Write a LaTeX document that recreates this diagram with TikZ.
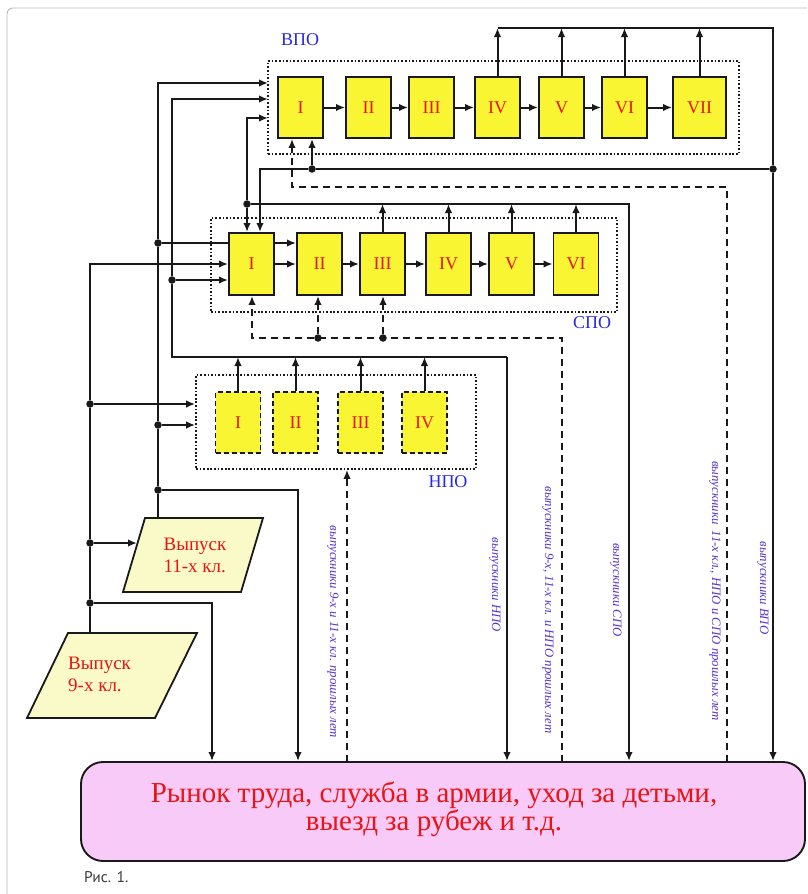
\documentclass[tikz,border=0pt]{standalone}
\usepackage{fontspec}
\setmainfont{Liberation Serif}
\newfontfamily\capfont{PT Sans}
\usetikzlibrary{arrows.meta,calc}
\definecolor{byel}{RGB}{250,245,50}
\definecolor{rtxt}{RGB}{235,20,20}
\definecolor{btxt}{RGB}{40,40,230}
\definecolor{vtxt}{RGB}{85,50,215}
\definecolor{pinkf}{RGB}{248,202,248}
\definecolor{pyel}{RGB}{250,250,200}
\definecolor{ink}{RGB}{25,25,25}
\begin{document}
\begin{tikzpicture}[x=1pt,y=-1pt,
  ybox/.style={draw=ink, fill=byel, line width=1.9pt, minimum width=45pt, minimum height=61pt, inner sep=0pt, text=rtxt, font=\fontsize{18}{18}\selectfont},
  nbox/.style={ybox, dash pattern=on 5pt off 3pt},
  grp/.style={draw=ink, line width=1.7pt, dash pattern=on 1.7pt off 1.9pt, inner sep=0pt},
  conn/.style={line width=2pt, draw=ink},
  arr/.style={conn, -{Latex[length=9pt,width=7.5pt]}},
  dconn/.style={conn, dash pattern=on 7pt off 5pt},
  darr/.style={dconn, -{Latex[length=9pt,width=7.5pt]}},
  jdot/.style={circle, fill=ink, inner sep=0pt, minimum size=7.5pt},
  vlab/.style={rotate=-90, text=vtxt, font=\itshape\fontsize{12.8}{12.8}\selectfont, inner sep=0pt},
  glab/.style={text=btxt, font=\fontsize{18}{18}\selectfont, inner sep=0pt},
  pshape/.style={draw=ink, fill=pyel, line width=1.8pt},
  ptext/.style={text=rtxt, font=\fontsize{19}{22}\selectfont, align=left, inner sep=0pt}
]
\fill[white] (0,0) rectangle (807,894);
\useasboundingbox (0,0) rectangle (807,894);
\draw[gray!55, line width=0.9pt, rounded corners=6pt] (7,894) -- (7,8) -- (807,8);

% groups
\node[grp, minimum width=471pt, minimum height=93pt] (vg) at (503.5,107.5) {};
\node[grp, minimum width=406pt, minimum height=94pt] (sg) at (414,265) {};
\node[grp, minimum width=280pt, minimum height=94pt] (ng) at (336,422) {};
\node[glab] (vgl) at (300,40) {ВПО};
\node[glab] (sgl) at (592,323) {СПО};
\node[glab] (ngl) at (448,482) {НПО};

% ВПО boxes
\node[ybox] (v1) at (300.5,107.5) {I};
\node[ybox] (v2) at (368.5,107.5) {II};
\node[ybox] (v3) at (431.5,107.5) {III};
\node[ybox] (v4) at (497.5,107.5) {IV};
\node[ybox] (v5) at (561.5,107.5) {V};
\node[ybox] (v6) at (624.5,107.5) {VI};
\node[ybox, minimum width=53pt] (v7) at (699.5,107.5) {VII};
% СПО boxes
\node[ybox, minimum height=62pt] (s1) at (251.5,264) {I};
\node[ybox, minimum height=62pt] (s2) at (319.5,264) {II};
\node[ybox, minimum height=62pt] (s3) at (382.5,264) {III};
\node[ybox, minimum height=62pt] (s4) at (448.5,264) {IV};
\node[ybox, minimum height=62pt] (s5) at (511.5,264) {V};
\node[ybox, minimum height=62pt] (s6) at (576,264) {VI};
% НПО boxes
\node[nbox] (n1) at (238,422.5) {I};
\node[nbox] (n2) at (295.5,422.5) {II};
\node[nbox] (n3) at (360.5,422.5) {III};
\node[nbox] (n4) at (424.5,422.5) {IV};

% market
\node[draw=ink, fill=pinkf, line width=1.9pt, rounded corners=22pt, minimum width=724pt, minimum height=99pt] (market) at (443,811.5) {};
\node[text=rtxt, font=\fontsize{29}{28}\selectfont, align=center] (mtext) at (434,809) {Рынок труда, служба в армии, уход за детьми,\\выезд за рубеж и т.д.};
\node[anchor=west, text=ink!85, font=\capfont\fontsize{15.5}{15.5}\selectfont, inner sep=0pt] (cap) at (84,877) {Рис. 1.};

% parallelograms
\draw[pshape] (145,518) coordinate (p11a) -- (263,518) -- (241,592) -- (123,592) -- cycle;
\node[ptext] (t11) at (195,555) {Выпуск\\11-х кл.};
\draw[pshape] (68,633) coordinate (p9a) -- (197,633) -- (155,718) -- (27,718) -- cycle;
\node[ptext, anchor=north west] (t9) at (68,657) {Выпуск\\9-х кл.};

% coordinates
\coordinate (vin1) at (268,83);
\coordinate (vin2) at (268,99);
\coordinate (vin3) at (268,118);
\coordinate (cA) at (158,83);
\coordinate (cB) at (172,99);
\coordinate (cC) at (247,118);
\coordinate (p11t) at (158,518);
\coordinate (p9t) at (90,633);
\coordinate (p11l) at (137,543);
\coordinate (cA4) at (298,490);
\coordinate (cB2) at (172,357);
\coordinate (cB3) at (507,357);
\coordinate (cC2) at (629,204);
\coordinate (cD0) at (773,28);
\coordinate (cD3) at (260,169);
\coordinate (cE0) at (90,264);
\coordinate (cE4) at (212,603);
\coordinate (xN) at (347,762);
\coordinate (xS) at (562,762);
\coordinate (cS1) at (562,338);
\coordinate (cS2) at (252,338);
\coordinate (xV) at (727,762);
\coordinate (cV1) at (727,187);
\coordinate (cV2) at (292,187);

% box chains
\foreach \a/\b in {v1/v2,v2/v3,v3/v4,v4/v5,v5/v6,v6/v7,s1/s2,s2/s3,s3/s4,s4/s5,s5/s6}
  \draw[arr] (\a) -- (\b);

% Line A: 11th grade (x=158)
\node[jdot] (jA1) at (158,243) {};
\node[jdot] (jA2) at (158,425) {};
\node[jdot] (jA3) at (158,490) {};
\draw[arr] (p11t) -- (jA3) -- (jA2) -- (jA1) -- (cA) -- (vin1);
\draw[conn] (jA1) -- (jA1 -| s1.west);
\draw[arr] (jA1 -| s1.east) -- (jA1 -| s2.west);
\draw[arr] (jA2) -- (jA2 -| ng.west);
\draw[arr] (jA3) -- (cA4) -- (cA4 |- market.north);

% Line B: НПО graduates
\foreach \n in {n1,n2,n3,n4} \draw[arr] (\n.north) -- (\n.north |- cB2);
\node[jdot] (jB1) at (172,280) {};
\draw[arr] (cB3) -- (cB2) -- (jB1) -- (cB) -- (vin2);
\draw[arr] (cB3) -- (cB3 |- market.north);
\draw[arr] (jB1) -- (jB1 -| s1.west);

% Line C: СПО graduates
\foreach \n in {s3,s4,s5,s6} \draw[arr] (\n.north) -- (\n.north |- cC2);
\node[jdot] (jC) at (247,204) {};
\draw[arr] (jC) -- (cC2) -- (cC2 |- market.north);
\draw[arr] (jC) -- (cC) -- (vin3);
\draw[arr] (jC) -- (jC |- s1.north);

% Line D: ВПО graduates
\foreach \n in {v4,v5,v6,v7} \draw[arr] (\n.north) -- (\n.north |- cD0);
\node[jdot] (jD1) at (773,169) {};
\node[jdot] (jD2) at (312,169) {};
\draw[arr] (v4.north |- cD0) -- (cD0) -- (jD1) -- (jD1 |- market.north);
\draw[arr] (jD1) -- (jD2) -- (cD3) -- (cD3 |- s1.north);
\draw[arr] (jD2) -- (jD2 |- v1.south);

% Line E: 9th grade (x=90)
\node[jdot] (jE1) at (90,404) {};
\node[jdot] (jE2) at (90,543) {};
\node[jdot] (jE3) at (90,603) {};
\draw[arr] (p9t) -- (jE3) -- (jE2) -- (jE1) -- (cE0) -- (cE0 -| s1.west);
\draw[arr] (jE1) -- (jE1 -| ng.west);
\draw[arr] (jE2) -- (p11l);
\draw[arr] (jE3) -- (cE4) -- (cE4 |- market.north);

% dashed returns
\draw[darr] (xN) -- (xN |- ng.south);
\node[jdot] (jS1) at (318,338) {};
\node[jdot] (jS2) at (383,338) {};
\draw[darr] (xS) -- (cS1) -- (cS2) -- (cS2 |- s1.south);
\draw[darr] (jS1) -- (jS1 |- s2.south);
\draw[darr] (jS2) -- (jS2 |- s3.south);
\draw[darr] (xV) -- (cV1) -- (cV2) -- (cV2 |- v1.south);

% vertical labels
\node[vlab] (l1) at (333,632) {выпускники 9-х и 11-х кл. прошлых лет};
\node[vlab] (l2) at (495,585) {выпускники НПО};
\node[vlab] (l3) at (548,610) {выпускники 9-х, 11-х кл. и НПО прошлых лет};
\node[vlab] (l4) at (616,590) {выпускники СПО};
\node[vlab] (l5) at (715,591) {выпускники\ \ 11-х кл.,\ НПО и СПО прошлых лет};
\node[vlab] (l6) at (763,588) {выпускники ВПО};
\end{tikzpicture}
\end{document}
